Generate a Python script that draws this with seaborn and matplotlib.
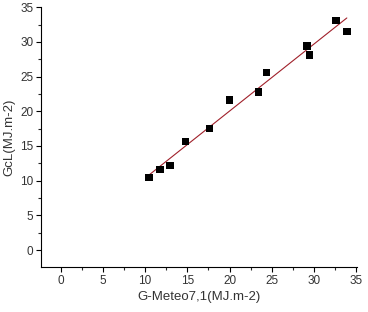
import matplotlib
matplotlib.use("Agg")
import matplotlib.pyplot as plt
import seaborn as sns
import numpy as np
import pandas as pd
from matplotlib.ticker import MultipleLocator

x_vals = [10.45, 11.75, 12.95, 14.75, 17.65, 20.0, 23.45, 24.4, 29.1, 29.2, 29.5, 32.6, 33.9]
y_vals = [10.45, 11.6, 12.2, 15.65, 17.5, 21.6, 22.8, 25.6, 29.5, 29.4, 28.1, 33.1, 31.5]
x_label = "G-Meteo7,1(MJ.m-2)"
y_label = "GcL(MJ.m-2)"
ticks = [0, 5, 10, 15, 20, 25, 30, 35]

df = pd.DataFrame({"x": x_vals, "y": y_vals})

sns.set_style("ticks")
plt.rcParams['font.family'] = ['Liberation Sans', 'DejaVu Sans']

fig = plt.figure(figsize=(3.68, 3.12), dpi=100)
ax = fig.add_axes([0.111, 0.144, 0.859, 0.833])

sns.regplot(data=df, x="x", y="y", ax=ax, ci=None, truncate=True,
            marker="s",
            scatter_kws=dict(s=28, color="black", edgecolor="none", alpha=1, zorder=3),
            line_kws=dict(color="#a0202a", lw=0.8, zorder=2))

ax.set_xlim(-2.35, 35.1)
ax.set_ylim(-2.45, 35)
ax.set_xticks(ticks)
ax.set_yticks(ticks)
ax.xaxis.set_minor_locator(MultipleLocator(2.5))
ax.yaxis.set_minor_locator(MultipleLocator(2.5))
ax.tick_params(axis="both", which="major", length=3.5, width=0.8, labelsize=8.5, colors="black", labelcolor="#333333", pad=2)
ax.tick_params(axis="both", which="minor", length=2, width=0.8)
for s in ["top", "right"]:
    ax.spines[s].set_visible(False)
for s in ["left", "bottom"]:
    ax.spines[s].set_linewidth(0.8)
    ax.spines[s].set_color("black")
ax.set_xlabel(x_label, fontsize=9.5, color="#333333", labelpad=3)
ax.set_ylabel(y_label, fontsize=9.5, color="#333333", labelpad=3)

fig.savefig("out.png", dpi=100)
